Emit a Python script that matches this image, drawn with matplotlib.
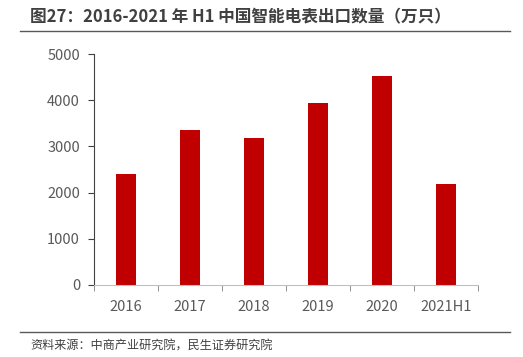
import matplotlib.pyplot as plt
import numpy as np

plt.rcParams['font.family'] = ['Noto Sans CJK SC', 'DejaVu Sans']

# 数据
categories = ['2016', '2017', '2018', '2019', '2020', '2021H1']
values = [2400, 3355, 3185, 3935, 4525, 2180]
yticks = [0, 1000, 2000, 3000, 4000, 5000]

fig = plt.figure(figsize=(5.23, 3.57), dpi=100)
ax = fig.add_axes([94 / 523, 1 - 285 / 357, 384 / 523, 231 / 357])

x = np.arange(len(categories))
ax.bar(x, values, width=0.32, color='#C00000')

ax.set_xlim(-0.5, len(categories) - 0.5)
ax.set_ylim(0, 5000)
ax.set_yticks(yticks)
ax.set_xticks(x)
ax.set_xticklabels(categories)
ax.set_xticks(np.arange(len(categories) + 1) - 0.5, minor=True)
ax.tick_params(axis='x', which='major', length=0, pad=11, labelsize=10.5, labelcolor='#595959')
ax.tick_params(axis='x', which='minor', length=4, color='#7f7f7f')
ax.tick_params(axis='y', length=4, color='#404040', labelsize=10.5, labelcolor='#595959', pad=6)

for s in ['top', 'right']:
    ax.spines[s].set_visible(False)
ax.spines['left'].set_color('#404040')
ax.spines['bottom'].set_color('#bfbfbf')

# 标题与来源
fig.text(30 / 523, 1 - 17 / 357, '图27：2016-2021 年 H1 中国智能电表出口数量（万只）',
         fontsize=12, fontweight='bold', color='#404040', va='center')
fig.add_artist(plt.Line2D([20 / 523, 510 / 523], [1 - 31 / 357, 1 - 31 / 357],
                          color='#595959', lw=1))
fig.add_artist(plt.Line2D([20 / 523, 510 / 523], [1 - 332 / 357, 1 - 332 / 357],
                          color='#595959', lw=1))
fig.text(30 / 523, 1 - 346 / 357, '资料来源：中商产业研究院，民生证券研究院',
         fontsize=8.7, color='#404040', va='center')

fig.savefig('out.png', dpi=100)
